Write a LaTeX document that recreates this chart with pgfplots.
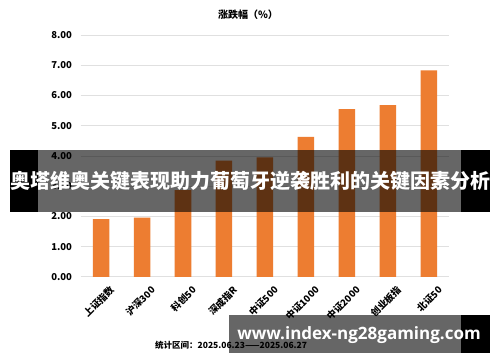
\documentclass[border=0pt]{standalone}
\usepackage{pgfplots}
\pgfplotsset{compat=1.18}
\usepackage{fontspec}
\setmainfont{Noto Sans CJK SC}
\newfontfamily\wmfont{Open Sans}
\definecolor{barorange}{HTML}{ED7D31}
\definecolor{gridgray}{HTML}{E0E0E0}
\begin{document}
\begin{tikzpicture}[x=1pt,y=1pt]
\fill[white] (0,0) rectangle (500,362);
\useasboundingbox (0,0) rectangle (500,362);
\begin{axis}[
  at={(80.5pt,85.2pt)}, anchor=south west,
  scale only axis, width=369pt, height=241.8pt,
  xmin=-0.5, xmax=8.5, ymin=0, ymax=8,
  ytick={0,1,2,3,4,5,6,7,8},
  xtick={0,1,2,3,4,5,6,7,8},
  xticklabels={上证指数,沪深300,科创50,深成指R,中证500,中证1000,中证2000,创业板指,北证50},
  axis line style={draw=none},
  major tick length=0pt,
  ymajorgrids, grid style={gridgray, line width=0.8pt},
  /pgf/number format/assume math mode=true,
  yticklabel={\pgfmathprintnumber[fixed,fixed zerofill,precision=2]{\tick}},
  yticklabel style={font=\bfseries\fontsize{9.5}{10}\selectfont, xshift=-5pt},
  xticklabel style={font=\bfseries\fontsize{9.5}{10}\selectfont, rotate=45, anchor=east, inner sep=0pt, xshift=0pt, yshift=-16pt},
  clip=false,
]
\addplot[ybar, bar width=16.5pt, fill=barorange, draw=none] coordinates {
(0,1.91) (1,1.96) (2,2.87) (3,3.84) (4,3.95) (5,4.63) (6,5.55) (7,5.68) (8,6.83)};
\end{axis}
\node[font=\bfseries\fontsize{10}{12}\selectfont] at (248,347) {涨跌幅（\%）};
\node[anchor=west, font=\bfseries\fontsize{8.5}{10}\selectfont, inner sep=0] at (155,17) {统计区间：2025.06.23——2025.06.27};
% banner overlay
\fill[black, fill opacity=0.6] (38,150.3) rectangle (461,212);
\fill[black] (10,150.3) rectangle (38,212);
\fill[black] (461,150.3) rectangle (490,212);
\node[white, font=\bfseries\fontsize{20}{22}\selectfont] at (250,181) {奥塔维奥关键表现助力葡萄牙逆袭胜利的关键因素分析};
% watermark
\fill[black, fill opacity=0.6] (229,9.3) rectangle (461,47);
\fill[black] (461,9.3) rectangle (490,47);
\node[white, font=\wmfont\bfseries\fontsize{17}{20}\selectfont] at (359,27) {www.index-ng28gaming.com};
\end{tikzpicture}
\end{document}
